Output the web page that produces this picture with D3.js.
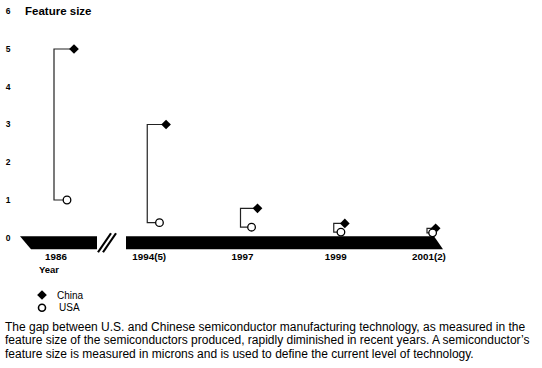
<!DOCTYPE html>
<html>
<head>
<meta charset="utf-8">
<script src="https://cdn.jsdelivr.net/npm/d3@7"></script>
<style>
  body { margin: 0; background: #fff; }
  svg { display: block; font-family: "Liberation Sans", Arial, sans-serif; }
</style>
</head>
<body>
<div id="container"></div>
<script>
// chart data
const years = ["1986", "1994(5)", "1997", "1999", "2001(2)"]
const china = [5, 3, 0.78, 0.38, 0.25]
const usa = [1, 0.4, 0.28, 0.15, 0.13]
const yTicks = [0, 1, 2, 3, 4, 5, 6]
const caption = [
  "The gap between U.S. and Chinese semiconductor manufacturing technology, as measured in the",
  "feature size of the semiconductors produced, rapidly diminished in recent years. A semiconductor\u2019s",
  "feature size is measured in microns and is used to define the current level of technology."
]

const width = 542
const height = 368

let svg = d3.select("#container")
    .append("svg")
    .attr("width", width)
    .attr("height", height)

//scales
let x = d3.scalePoint().domain(years).range([54, 427])
let y = d3.scaleLinear().domain([0, 6]).range([237.75, 11.25])

//length of the horizontal arms, shorter when the gap is small
let arm = d3.scaleLinear().domain([0, 0.5, 4]).range([6, 17, 20]).clamp(true)

//y tick labels
svg.selectAll(".ytick")
    .data(yTicks)
    .enter().append("text")
    .attr("x", 8)
    .attr("y", d => y(d))
    .attr("dy", "0.35em")
    .attr("text-anchor", "middle")
    .attr("font-size", 8.5)
    .attr("font-weight", "bold")
    .text(d => d)

svg.append("text")
    .attr("x", 25)
    .attr("y", y(6))
    .attr("dy", "0.35em")
    .attr("font-size", 11.5)
    .attr("font-weight", "bold")
    .text("Feature size")

//the black time bar with a break after the first year
const barTop = y(0) - 1.5
const barH = 13
const x0 = x(years[0]), xN = x(years[years.length - 1])
svg.append("path")
    .attr("fill", "#000")
    .attr("d", `M${x0 - 34},${barTop} L${x0 + 43},${barTop} L${x0 + 43},${barTop + barH} L${x0 - 23},${barTop + barH} Z`)
svg.append("path")
    .attr("fill", "#000")
    .attr("d", `M${x0 + 72},${barTop} L${xN + 7},${barTop} L${xN + 16},${barTop + barH} L${x0 + 72},${barTop + barH} Z`)
svg.selectAll(".brk")
    .data([0, 5])
    .enter().append("line")
    .attr("x1", d => x0 + 44 + d)
    .attr("y1", barTop + 16)
    .attr("x2", d => x0 + 57 + d)
    .attr("y2", barTop - 3)
    .attr("stroke", "#000")
    .attr("stroke-width", 2.2)

//year labels
svg.selectAll(".year")
    .data(years)
    .enter().append("text")
    .attr("x", d => x(d) + 2)
    .attr("y", barTop + 24)
    .attr("text-anchor", "middle")
    .attr("font-size", 9.8)
    .attr("font-weight", "bold")
    .text(d => d)

svg.append("text")
    .attr("x", x0 - 5)
    .attr("y", barTop + 37)
    .attr("text-anchor", "middle")
    .attr("font-size", 9.5)
    .attr("font-weight", "bold")
    .text("Year")

//brackets joining China and USA for each year
let pairs = years.map((yr, i) => ({year: yr, china: china[i], usa: usa[i], gap: china[i] - usa[i]}))

let g = svg.append("g")
g.selectAll(".bracket")
    .data(pairs)
    .enter().append("path")
    .attr("fill", "none")
    .attr("stroke", "#222")
    .attr("stroke-width", 1.2)
    .attr("d", d => {
        const bx = x(d.year)
        const a = arm(d.gap)
        return `M${bx + a},${y(d.china)} H${bx} V${y(d.usa)} H${bx + a * 0.65}`
    })

const diamond = d3.symbol().type(d3.symbolDiamond2).size(60)
g.selectAll(".cn")
    .data(pairs)
    .enter().append("path")
    .attr("transform", d => `translate(${x(d.year) + arm(d.gap)},${y(d.china)})`)
    .attr("d", diamond)
    .attr("fill", "#000")

g.selectAll(".us")
    .data(pairs)
    .enter().append("circle")
    .attr("cx", d => x(d.year) + arm(d.gap) * 0.65)
    .attr("cy", d => y(d.usa))
    .attr("r", 3.8)
    .attr("fill", "#fff")
    .attr("stroke", "#000")
    .attr("stroke-width", 1.3)

//legend
svg.append("path")
    .attr("transform", "translate(42,295)")
    .attr("d", diamond)
    .attr("fill", "#000")
svg.append("circle")
    .attr("cx", 42)
    .attr("cy", 307.7)
    .attr("r", 3.5)
    .attr("fill", "#fff")
    .attr("stroke", "#000")
    .attr("stroke-width", 1.6)
svg.append("text").attr("x", 57).attr("y", 295).attr("dy", "0.35em").attr("font-size", 10).text("China")
svg.append("text").attr("x", 59).attr("y", 307.7).attr("dy", "0.35em").attr("font-size", 10).text("USA")

//caption
svg.selectAll(".cap")
    .data(caption)
    .enter().append("text")
    .attr("x", 5)
    .attr("y", (d, i) => 330.5 + i * 13.8)
    .attr("font-size", 12)
    .text(d => d)
</script>
</body>
</html>
